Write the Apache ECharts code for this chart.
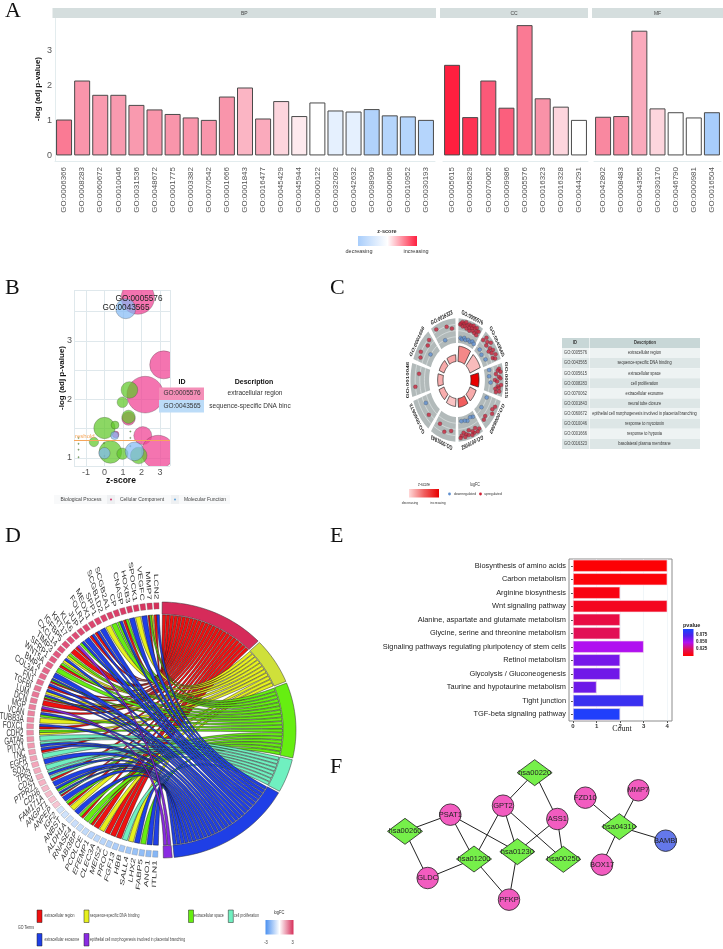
<!DOCTYPE html>
<html><head><meta charset="utf-8">
<script src="https://cdn.jsdelivr.net/npm/echarts@6/dist/echarts.min.js"></script>
<style>html,body{margin:0;padding:0;background:#fff}#c{width:723px;height:949px}</style></head>
<body><div id="c"></div>
<script>
// ---------- Panel A data
const bpIds=['GO:0006366','GO:0008283','GO:0060672','GO:0010046','GO:0031536','GO:0048672','GO:0001775','GO:0003382','GO:0070542','GO:0001666','GO:0001843','GO:0016477','GO:0045429','GO:0045944','GO:0000122','GO:0032092','GO:0042632','GO:0098909','GO:0006069','GO:0010952','GO:0030193'];
const bpLogP=[1.03,2.15,1.74,1.74,1.45,1.32,1.19,1.09,1.02,1.69,1.95,1.06,1.56,1.13,1.52,1.29,1.26,1.33,1.15,1.12,1.02];
const bpZ=[1.4,1.0,0.95,0.95,0.95,1,1,1,1,1,0.7,0.8,0.4,0.2,0,-0.3,-0.3,-0.9,-0.85,-0.85,-0.85];
const ccIds=['GO:0005615','GO:0005829','GO:0070062','GO:0009986','GO:0005576','GO:0016323','GO:0016328','GO:0044291'];
const ccLogP=[2.6,1.1,2.15,1.37,3.74,1.64,1.4,1.02];
const ccZ=[3,2.6,1.9,1.8,1.4,1.05,0.4,0];
const mfIds=['GO:0042802','GO:0008483','GO:0043565','GO:0030170','GO:0046790','GO:0000981','GO:0016504'];
const mfLogP=[1.11,1.13,3.58,1.35,1.24,1.09,1.24];
const mfZ=[1.2,1.1,0.8,0.4,0,0,-1];
// ---------- Panel B data: [z-score, -log p, gene count]
const bubblesBP=[[1.35,2.16,25],[0.97,1.95,16],[1.3,1.7,20],[0,1.51,32],[0.57,1.56,12],[-0.57,1.27,14],[0.32,1.1,34],[0.97,1.07,17],[1.85,1.04,25],[-1.4,1.34,2],[-1.4,1.24,2],[-1.4,1.14,2],[-1.4,1.01,2],[-0.03,1.25,2],[1.4,1.45,2],[1.4,1.34,2],[1.4,1.2,2],[0,1.03,2]];
const bubblesCC=[[1.8,3.74,50],[3.2,2.59,42],[2.2,2.08,55],[1.3,1.67,20],[2.07,1.38,27],[0.6,1.4,10],[2.9,1.1,50]];
const bubblesMF=[[1.15,3.55,30],[0.55,1.38,12],[0,1.08,17],[1.62,1.11,28]];
const threshold=1.3;
const bTable=[['GO:0005576','extracellular region'],['GO:0043565','sequence-specific DNA binc']];
// ---------- Panel C data
const circleIds=['GO:0005576','GO:0043565','GO:0005615','GO:0008283','GO:0070062','GO:0001843','GO:0060672','GO:0010046','GO:0001666','GO:0016323'];
const circleDesc=['extracellular region','sequence-specific DNA binding','extracellular space','cell proliferation','extracellular exosome','neural tube closure','epithelial cell morphogenesis involved in placental branching','response to mycotoxin','response to hypoxia','basolateral plasma membrane'];
const circleFC=[
 [1.9,2.2,-1.6,2.6,1.5,-1.9,2.3,1.7,2.8,-1.4,1.2,2.1,-1.8,2.5,1.6,0.9,2.4,-1.5,1.9,2.7,1.3,-1.7,2.2,1.0,2.6,-1.3,1.8,0.8,2.0,-1.6],
 [1.2,2.4,-1.5,1.8,0.9,2.6,-1.9,1.5,0.6,2.1,1.3,-1.4,2.3,1.0,1.7],
 [-1.2,2.2,1.7,2.6,0.9,-1.5,1.9,2.4,0.5,1.3,-1.0,2.7,1.6,2.0,0.8,2.3,1.2],
 [-1.4,2.3,1.8,2.4,-1.6,0.9,1.3],
 [2.2,-1.6,2.6,1.4,-1.9,2.4,1.8,2.7,-1.4,1.1,2.3,-1.7,1.9,2.5,1.3,-1.8,2.0,2.6],
 [0.8,1.6,0.2],
 [0.7,-0.3],
 [1.9,0.6],
 [1.3,1.9,-1.3,0.9,1.6],
 [2.4,-1.5,1.7,0.9]];
// ---------- Panel D data
const goTerms=['extracellular region','sequence-specific DNA binding','extracellular space','cell proliferation','extracellular exosome','epithelial cell morphogenesis involved in placental branching'];
const geneNames=['LCN2','MMP7','VEGFC','SPOCK1','HOXB3','CNASP','CP','SCGB2A1','SCGB1D2','SPP1','MEOX1','FOLR1','JUP','KLK6','KRT17','IGFBP5','CXCL14','TIMP3','SFRP1','WNT5A','BMP4','COL3A1','FN1','TGFBI','LUM','DCN','MGP','VCAN','TUBB3A','FOXC1','CDH2','GATA6','PITX1','TNC','EGFR','SOX2','TP63','CD24','PTPRZ1','CDH6','FAM171A','ANGPT1','ANPEP','IGF2','ANBST','ALDH1A','RNASE4','ABI3BP','PCOLCE','EFEMP1','CLEC3A','MEIS2','PROC','FGF13','HBB','SALL4','LHX2','FABP5','ANO1','ITLN1'];
const geneFC=[3,2.9,2.85,2.75,2.7,2.6,2.55,2.5,2.45,2.35,2.3,2.25,2.2,2.1,2.05,2,1.95,1.9,1.85,1.8,1.75,1.7,1.65,1.6,1.55,1.5,1.45,1.4,1.35,1.3,1.25,1.2,1.15,1.1,1.05,1,0.95,0.9,0.85,0.8,0.75,0.7,0.65,-0.7,-0.75,-0.8,-0.85,-0.9,-0.95,-1,-1.05,-1.1,-1.2,-1.3,-1.4,-1.5,-1.6,-1.7,-1.8,-1.9];
// which GO terms (r y g t b p) each gene belongs to
const geneTerms=['rb','rgy','b','y','b','rg','gb','g','y','b','rb','rb','b','gb','rp','r','yg','yb','rg','g','b','rgb','rb','yb','rgb','r','rp','gb','y','rb','yg','t','bt','rb','t','b','t','bt','rt','b','gb','rtb','b','rg','y','b','rg','g','rg','r','y','r','r','r','t','y','b','g','b','b'];
// ---------- Panel E data
const pathways=['Biosynthesis of amino acids','Carbon metabolism','Arginine biosynthesis','Wnt signaling pathway','Alanine, aspartate and glutamate metabolism','Glycine, serine and threonine metabolism','Signaling pathways regulating pluripotency of stem cells','Retinol metabolism','Glycolysis / Gluconeogenesis','Taurine and hypotaurine metabolism','Tight junction','TGF-beta signaling pathway'];
const pathCount=[4,4,2,4,2,2,3,2,2,1,3,2];
const pathP=[0.001,0.002,0.004,0.007,0.015,0.019,0.045,0.055,0.056,0.057,0.075,0.086];
// ---------- Panel F data
const netNodes=['hsa00220','GPT2','ASS1','PSAT1','hsa00260','hsa01200','hsa01230','hsa00250','GLDC','PFKP','FZD10','MMP7','hsa04310','BAMBI','BOX17'];
const netX=[584,489,652,331,195,402,532,670,263,507,736,895,838,977,786];
const netY=[98,197,237,224,274,357,335,358,414,479,173,151,260,302,374];
const netLinks=[['hsa00220','GPT2'],['hsa00220','ASS1'],['GPT2','hsa01200'],['GPT2','hsa01230'],['GPT2','hsa00250'],['ASS1','hsa01230'],['ASS1','hsa00250'],['PSAT1','hsa00260'],['PSAT1','hsa01200'],['PSAT1','hsa01230'],['hsa00260','GLDC'],['GLDC','hsa01200'],['hsa01200','PFKP'],['hsa01230','PFKP'],['FZD10','hsa04310'],['MMP7','hsa04310'],['BAMBI','hsa04310'],['BOX17','hsa04310']];

// ---------- helpers
const hex=c=>[1,3,5].map(i=>parseInt(c.substr(i,2),16));
function ramp(stops,v){
  if(v<=stops[0][0])return stops[0][1];
  for(let i=1;i<stops.length;i++){ if(v<=stops[i][0]){
    const t=(v-stops[i-1][0])/(stops[i][0]-stops[i-1][0]),a=hex(stops[i-1][1]),b=hex(stops[i][1]);
    return 'rgb('+a.map((x,k)=>Math.round(x+(b[k]-x)*t)).join(',')+')';}}
  return stops[stops.length-1][1];
}
const zA=z=>ramp([[-1,'#a8cdfb'],[0,'#ffffff'],[1,'#f995ab'],[2,'#fb5272'],[3,'#ff1f3f']],z);
const zC=z=>ramp([[0,'#ffffff'],[3,'#e80000']],z);
const fcD=v=>ramp([[-3,'#3f8cf0'],[0,'#ffffff'],[1,'#f3a6ba'],[2,'#df4f78'],[3,'#d6305a']],v);
const pE=p=>ramp([[0,'#ff0000'],[0.02,'#e0105a'],[0.045,'#b010f0'],[0.056,'#7018e8'],[0.075,'#3a30f0'],[0.09,'#1645ff']],p);
const allIds=bpIds.concat(ccIds,mfIds),allP=bpLogP.concat(ccLogP,mfLogP),allZ=bpZ.concat(ccZ,mfZ);
const polar=(r,deg)=>{const a=deg*Math.PI/180;return [r*Math.sin(a),r*Math.cos(a)];};
function arcPts(api,r0,r1,a0,a1){
  const n=Math.max(2,Math.ceil(Math.abs(a1-a0)/2)),p=[];
  for(let i=0;i<=n;i++)p.push(api.coord(polar(r1,a0+(a1-a0)*i/n)));
  for(let i=n;i>=0;i--)p.push(api.coord(polar(r0,a0+(a1-a0)*i/n)));
  return p;
}
function txt(x,y,text,o){o=o||{};return {type:'text',x,y,rotation:o.rot||0,scaleX:o.sx||1,silent:true,z:o.z||10,
  style:{text,fontFamily:o.f||'Liberation Sans',fontSize:o.s||6,fontWeight:o.w||'normal',fill:o.c||'#333',align:o.a||'center',verticalAlign:'middle'}};}
function rect(x,y,w,h,fill,o){o=o||{};return {type:'rect',silent:true,z:o.z||5,shape:{x,y,width:w,height:h},style:{fill,stroke:o.stroke||null,lineWidth:o.lw||0}};}
const grad=(h,stops)=>new echarts.graphic.LinearGradient(0,h?0:1,h?1:0,0,stops.map((c,i)=>({offset:i/(stops.length-1),color:c})));

// ---------- axes
const grids=[],xAxes=[],yAxes=[],series=[];
function addHidden(l,t,w,h,x0,x1,y0,y1,inv){
  grids.push({left:l,top:t,width:w,height:h});
  xAxes.push({type:'value',show:false,gridIndex:grids.length-1,min:x0,max:x1});
  yAxes.push({type:'value',show:false,gridIndex:grids.length-1,min:y0,max:y1,inverse:!!inv});
  return grids.length-1;
}
// ---- A
function addA(l,w,ids,vals,zs,showY){
  const k=grids.length;
  grids.push({left:l,top:18.5,width:w,height:142.5});
  xAxes.push({type:'category',gridIndex:k,data:ids,axisTick:{show:false},axisLine:{lineStyle:{color:'#e3ecee',width:1},onZero:false},
    axisLabel:{interval:0,rotate:90,fontSize:8,color:'#555',fontFamily:'Liberation Sans',margin:6}});
  yAxes.push({type:'value',gridIndex:k,min:-0.16,max:3.93,splitLine:{show:false},axisTick:{show:false},
    axisLine:{show:showY,lineStyle:{color:'#e3ecee'}},
    axisLabel:{show:showY,customValues:[0,1,2,3],fontSize:9,color:'#555',fontFamily:'Liberation Sans',margin:3}});
  series.push({type:'bar',xAxisIndex:k,yAxisIndex:k,barWidth:16,
    data:vals.map((v,i)=>({value:v,itemStyle:{color:zA(zs[i]),borderColor:'#4a4a4a',borderWidth:1}}))});
}
addA(55,380,bpIds,bpLogP,bpZ,true);
addA(443,145,ccIds,ccLogP,ccZ,false);
addA(594,127,mfIds,mfLogP,mfZ,false);
// ---- B
const kB=grids.length;
grids.push({left:74,top:290,width:96,height:176});
xAxes.push({type:'value',gridIndex:kB,min:-1.645,max:3.54,axisLine:{show:false},axisTick:{show:false},
  splitLine:{show:true,lineStyle:{color:'#dfe8ec',width:1}},
  axisLabel:{customValues:[-1,0,1,2,3],fontSize:9,color:'#555',fontFamily:'Liberation Sans',margin:2}});
yAxes.push({type:'value',gridIndex:kB,min:0.86,max:3.87,axisLine:{show:false},axisTick:{show:false},
  splitLine:{show:true,lineStyle:{color:'#dfe8ec',width:1}},
  axisLabel:{customValues:[1,2,3],fontSize:9,color:'#555',fontFamily:'Liberation Sans',margin:2}});
const bub=(data,color,extra)=>Object.assign({type:'custom',xAxisIndex:kB,yAxisIndex:kB,data,clip:true,z:3,encode:{x:0,y:1},
  renderItem:(p,api)=>{const c=api.coord([api.value(0),api.value(1)]);
    return {type:'circle',shape:{cx:c[0],cy:c[1],r:api.value(2)/3},style:{fill:color,stroke:'rgba(60,60,60,.55)',lineWidth:.5}};}},extra||{});
series.push(bub(bubblesCC,'rgba(240,70,150,.75)'));
series.push(bub(bubblesBP,'rgba(96,200,40,.72)',{markLine:{silent:true,symbol:'none',animation:false,
  lineStyle:{color:'#f5a65b',width:1,type:'solid'},
  label:{position:'insideStartTop',formatter:'reshold',color:'#f5a65b',fontSize:6,distance:1,padding:0},
  data:[{yAxis:threshold}]}}));
series.push(bub(bubblesMF,'rgba(130,185,245,.7)'));
// ---- C
const kC=addHidden(410.5,318.3,93,123.4,-1,1,-1,1);
const secA=i=>36*i+2, secB=i=>36*i+34;
series.push({type:'custom',xAxisIndex:kC,yAxisIndex:kC,z:2,data:circleIds.map((_,i)=>[0,i]),
  renderItem:(p,api)=>{const i=p.dataIndex,a=secA(i),b=secB(i),ch=[{type:'polygon',shape:{points:arcPts(api,.6,1,a,b)},style:{fill:'#b2baba'}}];
    [.7,.8,.9].forEach(r=>{const pts=[];for(let d=a;d<=b;d+=2)pts.push(api.coord(polar(r,d)));
      ch.push({type:'polyline',shape:{points:pts},style:{stroke:'#e8eded',lineWidth:.6,fill:null}});});
    const c=api.coord(polar(1.06,(a+b)/2));
    ch.push({type:'group',x:c[0],y:c[1],scaleX:.62,children:[{type:'text',rotation:-(a+b)/2*Math.PI/180,
      style:{text:circleIds[i],fontFamily:'Liberation Sans',fontWeight:'bold',fontSize:6.3,fill:'#222',align:'center',verticalAlign:'middle'}}]});
    const k=allIds.indexOf(circleIds[i]),r1=.3+allP[k]*.0668;
    ch.push({type:'polygon',shape:{points:arcPts(api,.3,r1,a+2,b-2)},style:{fill:zC(allZ[k]),stroke:'#222',lineWidth:.7}});
    return {type:'group',children:ch};}});
const fcPts=sign=>{const out=[];circleFC.forEach((arr,i)=>arr.forEach((v,j)=>{
  if(v*sign>0){const th=secA(i)+2+(secB(i)-secA(i)-4)*(j+.5)/arr.length;out.push(polar(.6+(v+3)/6*.37,th));}}));return out;};
[[1,'#c8243c'],[-1,'#5f8fcf']].forEach(([s,c])=>series.push({type:'scatter',xAxisIndex:kC,yAxisIndex:kC,z:3,symbolSize:4,
  data:fcPts(s),itemStyle:{color:c,borderColor:'#333',borderWidth:.3}}));
// ---- D
const kD=addHidden(26,602,270,256,-1,1,-1,1);
const termKeys='rygtbp',ribbon=['#f01010','#e6f01e','#66ee11','#70f0c0','#1f3fe6','#8a2be2'],band=['#d62b5a','#cfe03a','#66ee11','#70f0c0','#1f3fe6','#8a2be2'];
const links=[];geneTerms.forEach((codes,g)=>[...codes].forEach((c,k)=>links.push({g,k,n:codes.length,t:termKeys.indexOf(c)})));
const termN=[0,0,0,0,0,0];links.forEach(l=>termN[l.t]++);
const lw=(178.5-4)/links.length,termStart=[];let acc=.5;termN.forEach((n,i)=>{termStart[i]=acc;acc+=n*lw+.8;});
const used=[0,0,0,0,0,0];links.forEach(l=>{l.s=used[l.t]++;});
links.sort((a,b)=>a.t-b.t);
const gw=178.5/geneNames.length,gA=i=>359.5-(i+1)*gw,gB=i=>359.5-i*gw;
series.push({type:'custom',xAxisIndex:kD,yAxisIndex:kD,z:2,data:links.map(l=>[l.g,l.t]),
  renderItem:(p,api)=>{const l=links[p.dataIndex],w=(gw-.5)/l.n,g0=gA(l.g)+.25+w*l.k,g1=g0+w,
      t0=termStart[l.t]+lw*l.s+.15,t1=t0+lw-.3,R=.9,K=.3,pts=[];
    const bez=(a,b,N)=>{const A=polar(R,a),B=polar(R,b);
      for(let i=0;i<=N;i++){const u=i/N,v=1-u,c0=v*v*v+3*v*v*u*K,c1=u*u*u+3*u*u*v*K;pts.push(api.coord([c0*A[0]+c1*B[0],c0*A[1]+c1*B[1]]));}};
    bez(g0,t1,24);pts.push(api.coord(polar(R,t0)));bez(t0,g1,24);
    return {type:'polygon',shape:{points:pts},style:{fill:ribbon[l.t],stroke:'#151515',lineWidth:.45}};}});
series.push({type:'custom',xAxisIndex:kD,yAxisIndex:kD,z:3,data:goTerms.map((_,i)=>[0,i]),
  renderItem:(p,api)=>{const i=p.dataIndex;return {type:'polygon',shape:{points:arcPts(api,.905,1,termStart[i],termStart[i]+termN[i]*lw)},style:{fill:band[i],stroke:'#333',lineWidth:.5}};}});
series.push({type:'custom',xAxisIndex:kD,yAxisIndex:kD,z:3,data:geneNames.map((_,i)=>[0,i]),
  renderItem:(p,api)=>{const i=p.dataIndex,a=gA(i)+.35,b=gB(i)-.35,c=api.coord(polar(1.02,(a+b)/2)),phi=(270-(a+b)/2)*Math.PI/180;
    return {type:'group',children:[{type:'polygon',shape:{points:arcPts(api,.945,.995,a,b)},style:{fill:fcD(geneFC[i]),stroke:'#777',lineWidth:.3}},
      {type:'group',x:c[0],y:c[1],scaleX:.62,children:[{type:'text',rotation:phi,style:{text:geneNames[i],fontFamily:'Liberation Sans',fontSize:10,fill:'#333',align:'right',verticalAlign:'middle'}}]}]};}});
// ---- E
const kE=grids.length;
grids.push({left:569,top:559,width:103,height:162,show:true,borderColor:'#8c8c8c',borderWidth:1});
xAxes.push({type:'value',gridIndex:kE,min:-0.17,max:4.2,axisLine:{show:false},axisTick:{show:true,customValues:[0,1,2,3,4],length:2,lineStyle:{color:'#555'}},
  splitLine:{show:true,lineStyle:{color:'#e8f0f5',width:.6}},
  axisLabel:{customValues:[0,1,2,3,4],fontSize:6,fontWeight:'bold',color:'#333',fontFamily:'Liberation Sans',margin:2}});
yAxes.push({type:'category',gridIndex:kE,inverse:true,data:pathways,axisLine:{show:false},axisTick:{show:true,length:2,alignWithLabel:true,lineStyle:{color:'#555'}},
  splitLine:{show:false},axisLabel:{interval:0,fontSize:7.4,color:'#222',fontFamily:'Liberation Sans',margin:3}});
series.push({type:'bar',xAxisIndex:kE,yAxisIndex:kE,barWidth:12,
  data:pathCount.map((v,i)=>({value:v,itemStyle:{color:pE(pathP[i]),borderColor:'#f6dcea',borderWidth:.6}}))});
// ---- F
const kF=addHidden(340,740,383,209,0,1149,0,627,true);
const isPath=n=>n.startsWith('hsa');
series.push({type:'graph',layout:'none',coordinateSystem:'cartesian2d',xAxisIndex:kF,yAxisIndex:kF,z:3,
  data:netNodes.map((n,i)=>({name:n,value:[netX[i],netY[i]],symbol:isPath(n)?'diamond':'circle',symbolSize:isPath(n)?[35,26]:21.5,
    itemStyle:{color:isPath(n)?'#76f04a':(n==='BAMBI'?'#6478ea':'#f25cc0'),borderColor:'#222',borderWidth:.8}})),
  links:netLinks.map(l=>({source:l[0],target:l[1]})),
  lineStyle:{color:'#222',width:1,opacity:1,curveness:0},
  label:{show:true,position:'inside',fontSize:7.5,color:'#222',fontFamily:'Liberation Sans',formatter:'{b}'}});

// ---------- graphics: strips, legends, tables, letters
const g=[];
const serif='Liberation Serif';
[['A',5,11],['B',5,288],['C',330,288],['D',5,536],['E',330,536],['F',330,767]].forEach(a=>g.push(txt(a[1],a[2],a[0],{f:serif,s:22,c:'#111',a:'left'})));
// A
[[52.5,383.5,'BP'],[440,148,'CC'],[592,131,'MF']].forEach(s=>{g.push(rect(s[0],8,s[1],10,'#d5dede'));g.push(txt(s[0]+s[1]/2,13.5,s[2],{s:5,c:'#444'}));});
g.push(txt(38,89,'-log (adj p-value)',{s:8,w:'bold',rot:Math.PI/2,c:'#111'}));
g.push(txt(387,231,'z-score',{s:5.5,w:'bold',c:'#333'}));
g.push(rect(358,236,59,10,grad(true,['#a8cdfb','#ffffff','#ff1f3f'])));
g.push(txt(359,251,'decreasing',{s:5.5,c:'#333'}));g.push(txt(416,251,'increasing',{s:5.5,c:'#333'}));
// B
g.push(txt(121,481,'z-score',{s:8.5,w:'bold',c:'#111'}));
g.push(txt(62,378,'-log (adj p-value)',{s:8,w:'bold',rot:Math.PI/2,c:'#111'}));
g.push(txt(139,299,'GO:0005576',{s:8.2,c:'#222',z:12}));g.push(txt(126,307.5,'GO:0043565',{s:8.2,c:'#222',z:12}));
g.push(txt(182,382,'ID',{s:7,w:'bold',c:'#111'}));g.push(txt(254,382,'Description',{s:7,w:'bold',c:'#111'}));
[['#f48fb8',387.5],['#bcdcf8',400]].forEach((r,i)=>{g.push(rect(159,r[1],45,12.5,r[0],{z:8}));
  g.push(txt(182,r[1]+6.2,bTable[i][0],{s:6.5,c:'#333',z:12}));g.push(txt(i?250:255,r[1]+6.2,bTable[i][1],{s:6.5,c:'#333',z:12}));});
g.push(rect(54,495,176,9,'#f8f9fa'));
g.push(rect(107,495,8,9,'#eef0f2'));g.push(rect(171,495,8,9,'#eef0f2'));
g.push(txt(81,499.5,'Biological Process',{s:5,c:'#444'}));g.push(txt(142,499.5,'Cellular Component',{s:5,c:'#444'}));g.push(txt(205,499.5,'Molecular Function',{s:5,c:'#444'}));
g.push({type:'circle',silent:true,z:8,shape:{cx:111,cy:499.5,r:1},style:{fill:'#d0356a'}});g.push({type:'circle',silent:true,z:8,shape:{cx:175,cy:499.5,r:1},style:{fill:'#5a9fd8'}});
// C table
g.push(rect(562,338,138,10,'#c8d7d7'));
g.push(txt(575,343,'ID',{s:5,w:'bold',sx:.8}));g.push(txt(645,343,'Description',{s:5,w:'bold',sx:.8}));
circleIds.forEach((id,i)=>{const y=348+i*10.1;g.push(rect(562,y,138,10.1,i%2?'#dde6e6':'#eef3f3'));
  g.push(rect(589,y,.6,10.1,'#ffffff',{z:6}));
  g.push(txt(575.5,y+5,id,{s:5,c:'#444',sx:.8}));g.push(txt(644.5,y+5,circleDesc[i],{s:5,c:'#333',sx:.78}));});
g.push(rect(589,338,.6,10,'#ffffff',{z:6}));
// C legend
g.push(txt(424,485,'z-score',{s:4.5,sx:.8}));g.push(rect(409,489,30,8.5,grad(true,['#ffd8d8','#f06060','#e80000'])));
g.push(txt(410,503,'decreasing',{s:4.2,sx:.8}));g.push(txt(438,503,'increasing',{s:4.2,sx:.8}));
g.push(txt(475,485,'logFC',{s:4.5,sx:.8}));
g.push({type:'circle',silent:true,z:8,shape:{cx:449.5,cy:494,r:1.4},style:{fill:'#5f8fcf'}});g.push(txt(465,494,'downregulated',{s:4.2,sx:.8}));
g.push({type:'circle',silent:true,z:8,shape:{cx:480.5,cy:494,r:1.4},style:{fill:'#cf2035'}});g.push(txt(493,494,'upregulated',{s:4.2,sx:.8}));
// D legend
g.push(txt(26,928,'GO Terms',{s:5,sx:.7}));
[[37,916,44.5],[84,916,90],[188.5,916,194],[228.3,916,234],[37,939.5,44.5],[84,939.5,90]].forEach((a,i)=>{
  g.push(rect(a[0],a[1]-6,5,12.5,ribbon[i],{stroke:'#222',lw:.5}));
  g.push(txt(a[2],a[1],goTerms[i],{s:5.4,c:'#444',a:'left',sx:.66}));});
g.push(txt(279,912.5,'logFC',{s:5,sx:.8}));
g.push(rect(265.5,920,28,14.5,grad(true,['#4a90f0','#ffffff','#d6305a'])));
g.push(txt(266,943,'-3',{s:5,sx:.8}));g.push(txt(292.5,943,'3',{s:5,sx:.8}));
// E legend
g.push(txt(622,729,'Count',{f:serif,s:8,c:'#222'}));
g.push(txt(683,625.5,'pvalue',{s:5.5,w:'bold',a:'left',c:'#222'}));
g.push(rect(683,629,10.5,27,grad(false,['#ff0000','#e0105a','#b010f0','#5020ea','#1645ff'])));
[['0.075',635],['0.050',642],['0.025',649]].forEach(a=>g.push(txt(696,a[1],a[0],{s:4.5,a:'left',c:'#222',w:'bold'})));

echarts.init(document.getElementById('c'),null,{renderer:'canvas'}).setOption({
  animation:false,backgroundColor:'#fff',grid:grids,xAxis:xAxes,yAxis:yAxes,series,graphic:{elements:g}});
</script></body></html>
